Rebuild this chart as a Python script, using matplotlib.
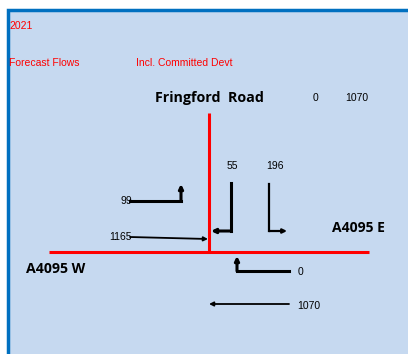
import matplotlib.pyplot as plt
from matplotlib.patches import Rectangle

# turning flow values (vehicles)
year = '2021'
title_left = 'Forecast Flows'
title_right = 'Incl. Committed Devt'
roads = ['Fringford  Road', 'A4095 E', 'A4095 W']
fringford_totals = [0, 1070]
flows_north = [55, 196]      # from Fringford Rd: right turn, left turn
flows_west = [99, 1165]      # from A4095 W: left turn, ahead
flows_east = [0, 1070]       # from A4095 E: right turn, ahead

RED = '#ff0000'
SMALL = dict(fontsize=7.5, va='center', family='Liberation Sans')
fig = plt.figure(figsize=(4.08, 3.54), dpi=100)
ax = fig.add_axes([0, 0, 1, 1])
ax.set_xlim(0, 408)
ax.set_ylim(354, 0)
ax.axis('off')

# panel
ax.add_patch(Rectangle((7.5, 9.5), 420, 360, facecolor='#c6d9f0',
                       edgecolor='#0070c0', linewidth=2.5))

ax.text(9, 26, year, color=RED, **SMALL)
ax.text(9, 63, title_left, color=RED, **SMALL)
ax.text(136, 63, title_right, color=RED, **SMALL)

ax.text(155, 98, roads[0], fontsize=10.3, fontweight='bold', va='center', family='Open Sans')
ax.text(313, 98, str(fringford_totals[0]), **SMALL)
ax.text(345, 98, str(fringford_totals[1]), **SMALL)
ax.text(332, 228, roads[1], fontsize=10, fontweight='bold', va='center', family='Open Sans')
ax.text(26, 269, roads[2], fontsize=10.2, fontweight='bold', va='center', family='Open Sans')

# roads
ax.plot([209, 209], [113, 252], color=RED, lw=2.2, solid_capstyle='butt')
ax.plot([49, 369], [252, 252], color=RED, lw=2.2, solid_capstyle='butt')


def turn(path, lw):
    xs = [p[0] for p in path]
    ys = [p[1] for p in path]
    ax.plot(xs[:-1], ys[:-1], color='black', lw=lw, solid_joinstyle='miter')
    ax.annotate('', xy=path[-1], xytext=path[-2],
                arrowprops=dict(arrowstyle='-|>', color='black', lw=lw,
                                mutation_scale=6, shrinkA=0, shrinkB=0))


# Fringford Rd approach
turn([(231, 183), (231, 231), (211, 231)], 2.2)
turn([(269, 184), (269, 231), (287, 231)], 1.6)
ax.text(232, 166, str(flows_north[0]), ha='center', **SMALL)
ax.text(275, 166, str(flows_north[1]), ha='center', **SMALL)

# A4095 W approach
turn([(130, 201), (181, 201), (181, 184)], 2.2)
turn([(130, 237), (208, 239)], 1.3)
ax.text(126, 201, str(flows_west[0]), ha='center', **SMALL)
ax.text(120, 237, str(flows_west[1]), ha='center', **SMALL)

# A4095 E approach
turn([(289, 271), (237, 271), (237, 256)], 2.2)
turn([(289, 304), (209, 304)], 1.3)
ax.text(298, 272, str(flows_east[0]), **SMALL)
ax.text(297, 306, str(flows_east[1]), **SMALL)

fig.savefig('out.png', dpi=100)
